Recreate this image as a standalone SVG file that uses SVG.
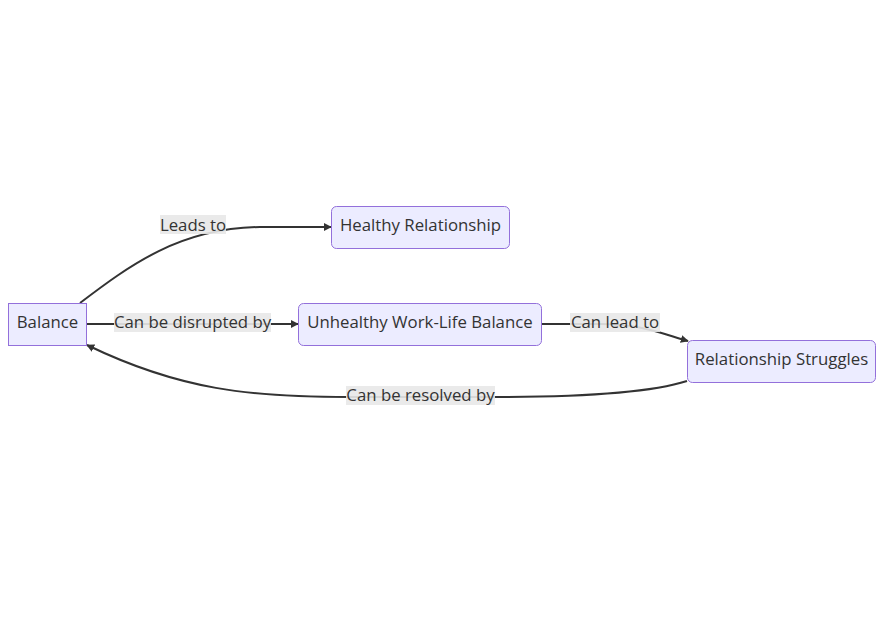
<svg xmlns="http://www.w3.org/2000/svg" width="885" height="617" viewBox="0 0 885 617">
<style>
.node rect{fill:#ECECFF;stroke:#9370DB;stroke-width:1}
.node text{font-family:"Open Sans","Liberation Sans",sans-serif;font-size:16.8px;fill:#333;text-anchor:middle;dominant-baseline:central}
.edge{fill:none;stroke:#333;stroke-width:2}
.lbl rect{fill:#e8e8e8;opacity:0.9}
.lbl text{font-family:"Open Sans","Liberation Sans",sans-serif;font-size:16.8px;fill:#333;text-anchor:middle;dominant-baseline:central}
</style>
<defs>
<marker id="arr" viewBox="0 0 10 10" refX="9" refY="5" markerWidth="8" markerHeight="8" markerUnits="userSpaceOnUse" orient="auto">
<path d="M0,0 L10,5 L0,10 z" fill="#333"/>
</marker>
</defs>
<rect width="885" height="617" fill="#fff"/>
<g id="connectors">
<path class="edge" d="M80,303 C130,265 180,228 260,227 L331,227" marker-end="url(#arr)"/>
<path class="edge" d="M87,324 L298,324" marker-end="url(#arr)"/>
<path class="edge" d="M542,324 L600,324 C640,324 660,333 688,341" marker-end="url(#arr)"/>
<path class="edge" d="M687,381 C650,393 580,397 495,397 L350,397 C250,397 180,390 87,345" marker-end="url(#arr)"/>
</g>
<g id="labels">
<g class="lbl"><rect x="160" y="215" width="66" height="19"/><text x="193" y="224">Leads to</text></g>
<g class="lbl"><rect x="114" y="313" width="157" height="19"/><text x="192.5" y="321">Can be disrupted by</text></g>
<g class="lbl"><rect x="570" y="313" width="90" height="19"/><text x="615" y="321">Can lead to</text></g>
<g class="lbl"><rect x="346" y="386" width="149" height="19"/><text x="420.5" y="394">Can be resolved by</text></g>
</g>
<g id="balance" class="node"><rect x="8.5" y="303.5" width="78" height="42"/><text x="47.5" y="321">Balance</text></g>
<g id="healthy" class="node"><rect x="331.5" y="206.5" width="178" height="42" rx="5"/><text x="420.5" y="224">Healthy Relationship</text></g>
<g id="unhealthy" class="node"><rect x="298.5" y="303.5" width="243" height="42" rx="5"/><text x="420" y="321">Unhealthy Work-Life Balance</text></g>
<g id="struggles" class="node"><rect x="687.5" y="340.5" width="188" height="42" rx="5"/><text x="781.5" y="358">Relationship Struggles</text></g>
</svg>
